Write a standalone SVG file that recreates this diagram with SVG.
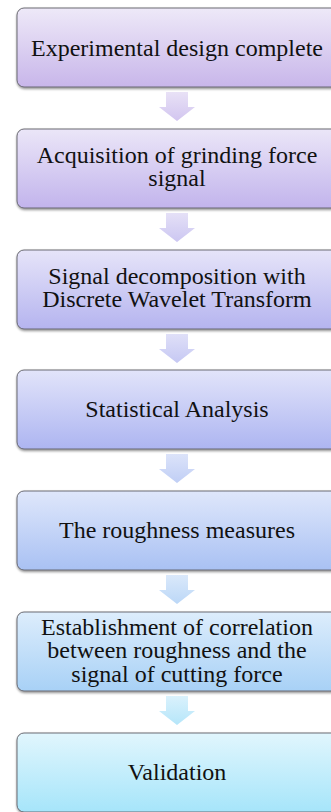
<svg xmlns="http://www.w3.org/2000/svg" width="331" height="812" viewBox="0 0 331 812">
<defs>
<style>
.box{stroke:#5f5f66;stroke-width:0.9;filter:url(#sh)}
.t{font-family:"Liberation Serif","Times New Roman",serif;font-size:24px;fill:#111;text-anchor:middle}
.arr{opacity:0.9}
</style>
<filter id="sh" x="-10%" y="-10%" width="120%" height="130%">
<feDropShadow dx="0.3" dy="1.5" stdDeviation="1" flood-color="#000" flood-opacity="0.45"/>
</filter>
<linearGradient id="g1" x1="0" y1="0" x2="0" y2="1"><stop offset="0" stop-color="#eee9f8"/><stop offset="1" stop-color="#c8b6ea"/></linearGradient>
<linearGradient id="g2" x1="0" y1="0" x2="0" y2="1"><stop offset="0" stop-color="#ebe6f8"/><stop offset="1" stop-color="#c2b4ec"/></linearGradient>
<linearGradient id="g3" x1="0" y1="0" x2="0" y2="1"><stop offset="0" stop-color="#e6e4f9"/><stop offset="1" stop-color="#b5b4ef"/></linearGradient>
<linearGradient id="g4" x1="0" y1="0" x2="0" y2="1"><stop offset="0" stop-color="#e2e4fa"/><stop offset="1" stop-color="#adb5f1"/></linearGradient>
<linearGradient id="g5" x1="0" y1="0" x2="0" y2="1"><stop offset="0" stop-color="#dfe7fb"/><stop offset="1" stop-color="#a9c1f3"/></linearGradient>
<linearGradient id="g6" x1="0" y1="0" x2="0" y2="1"><stop offset="0" stop-color="#ddedfc"/><stop offset="1" stop-color="#a8d1f6"/></linearGradient>
<linearGradient id="g7" x1="0" y1="0" x2="0" y2="1"><stop offset="0" stop-color="#e1f6fd"/><stop offset="1" stop-color="#a6e5fa"/></linearGradient>
<linearGradient id="a1" x1="0" y1="0" x2="0" y2="1"><stop offset="0" stop-color="#e6def5"/><stop offset="1" stop-color="#cdbfee"/></linearGradient>
<linearGradient id="a2" x1="0" y1="0" x2="0" y2="1"><stop offset="0" stop-color="#e2ddf6"/><stop offset="1" stop-color="#c6c0f0"/></linearGradient>
<linearGradient id="a3" x1="0" y1="0" x2="0" y2="1"><stop offset="0" stop-color="#dcdcf7"/><stop offset="1" stop-color="#bfc2f2"/></linearGradient>
<linearGradient id="a4" x1="0" y1="0" x2="0" y2="1"><stop offset="0" stop-color="#d8e0f9"/><stop offset="1" stop-color="#b9c9f4"/></linearGradient>
<linearGradient id="a5" x1="0" y1="0" x2="0" y2="1"><stop offset="0" stop-color="#d6e6fa"/><stop offset="1" stop-color="#b4d3f6"/></linearGradient>
<linearGradient id="a6" x1="0" y1="0" x2="0" y2="1"><stop offset="0" stop-color="#d6f0fc"/><stop offset="1" stop-color="#ade3f9"/></linearGradient>
<path id="arrow" d="M-11,0 H11 V15 H18 L0,29 L-18,15 H-11 Z"/>
</defs>
<rect width="331" height="812" fill="#fff"/>
<g id="connectors">
<use href="#arrow" x="177" y="92" fill="url(#a1)" class="arr"/>
<use href="#arrow" x="177" y="213" fill="url(#a2)" class="arr"/>
<use href="#arrow" x="177" y="334" fill="url(#a3)" class="arr"/>
<use href="#arrow" x="177" y="454" fill="url(#a4)" class="arr"/>
<use href="#arrow" x="177" y="575" fill="url(#a5)" class="arr"/>
<use href="#arrow" x="177" y="696" fill="url(#a6)" class="arr"/>
</g>
<g id="n1"><rect class="box" x="17" y="8" width="322" height="79" rx="7" fill="url(#g1)"/><text class="t" x="177" y="55.5">Experimental design complete</text></g>
<g id="n2"><rect class="box" x="17" y="129" width="322" height="79" rx="7" fill="url(#g2)"/><text class="t" x="177" y="162.5">Acquisition of grinding force</text><text class="t" x="177" y="186">signal</text></g>
<g id="n3"><rect class="box" x="17" y="250" width="322" height="79" rx="7" fill="url(#g3)"/><text class="t" x="177" y="283.5">Signal decomposition with</text><text class="t" x="177" y="307">Discrete Wavelet Transform</text></g>
<g id="n4"><rect class="box" x="17" y="370" width="322" height="79" rx="7" fill="url(#g4)"/><text class="t" x="177" y="417">Statistical Analysis</text></g>
<g id="n5"><rect class="box" x="17" y="491" width="322" height="79" rx="7" fill="url(#g5)"/><text class="t" x="177" y="538">The roughness measures</text></g>
<g id="n6"><rect class="box" x="17" y="612" width="322" height="79" rx="7" fill="url(#g6)"/><text class="t" x="177" y="634.5">Establishment of correlation</text><text class="t" x="177" y="658">between roughness and the</text><text class="t" x="177" y="681.5">signal of cutting force</text></g>
<g id="n7"><rect class="box" x="17" y="733" width="322" height="79" rx="7" fill="url(#g7)"/><text class="t" x="177" y="780">Validation</text></g>
</svg>
